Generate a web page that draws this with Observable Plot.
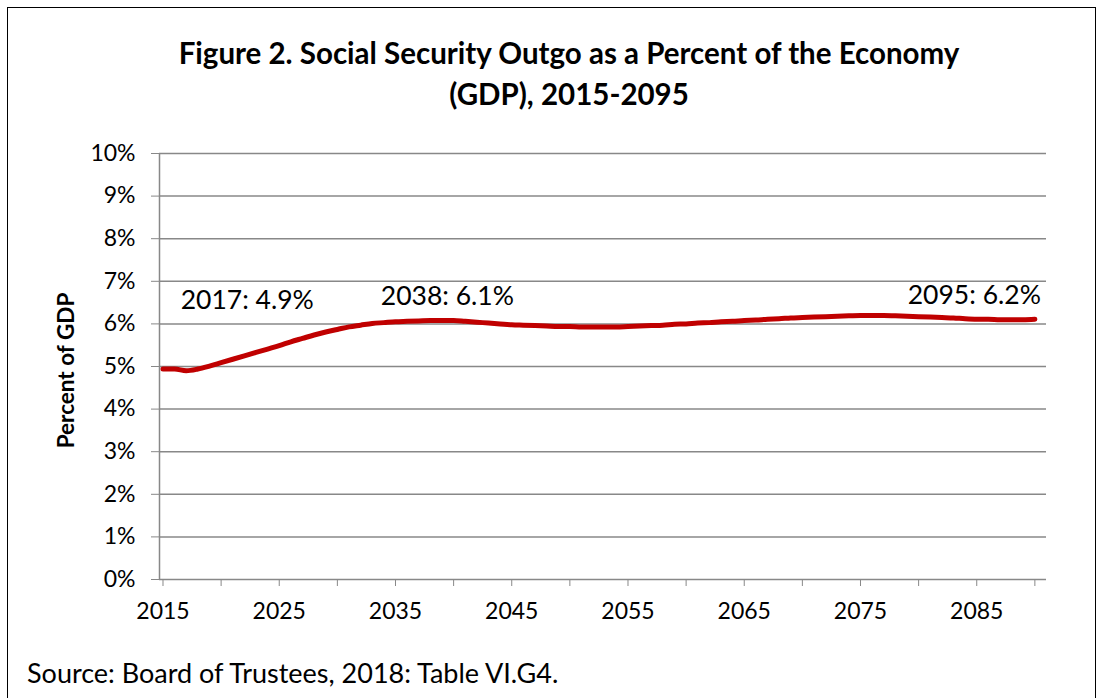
<!DOCTYPE html>
<html>
<head>
<meta charset="utf-8">
<script src="https://cdn.jsdelivr.net/npm/d3@7"></script>
<script src="https://cdn.jsdelivr.net/npm/@observablehq/plot@0.6"></script>
<style>
  body { margin: 0; background: #fff; font-family: Lato, "Open Sans", sans-serif; }
  #wrap { position: relative; width: 1103px; height: 698px; overflow: hidden; background: #fff; }
  #frame { position: absolute; left: 7px; top: 7px; width: 1089px; height: 740px; border: 1.5px solid #000; box-sizing: border-box; }
  #title { position: absolute; left: 0; top: 32px; width: 1138px; text-align: center; font-weight: bold; font-size: 29.5px; line-height: 41px; color: #000; }
  #chart { position: absolute; left: 0; top: 130px; }
  #source { position: absolute; left: 27px; top: 657px; font-size: 27px; line-height: 32px; color: #000; }
</style>
</head>
<body>
<div id="wrap">
  <div id="frame"></div>
  <div id="title">Figure 2. Social Security Outgo as a Percent of the Economy<br>(GDP), 2015-2095</div>
  <div id="chart"></div>
  <div id="source">Source: Board of Trustees, 2018: Table VI.G4.</div>
</div>
<script>
// ---- data ----
const years = d3.range(2015, 2091);
const outgoPct = [
  4.94, 4.94, 4.90, 4.94, 5.01, 5.09, 5.17, 5.25, 5.33, 5.41,
  5.49, 5.58, 5.66, 5.74, 5.81, 5.87, 5.93, 5.97, 6.01, 6.03,
  6.05, 6.06, 6.07, 6.08, 6.08, 6.08, 6.06, 6.04, 6.02, 6.00,
  5.98, 5.97, 5.96, 5.95, 5.94, 5.94, 5.93, 5.93, 5.93, 5.93,
  5.94, 5.95, 5.96, 5.97, 5.99, 6.00, 6.02, 6.03, 6.05, 6.06,
  6.08, 6.09, 6.11, 6.12, 6.14, 6.15, 6.16, 6.17, 6.18, 6.19,
  6.20, 6.20, 6.20, 6.19, 6.18, 6.17, 6.16, 6.15, 6.14, 6.12,
  6.11, 6.11, 6.10, 6.10, 6.10, 6.11
];
const xTickYears = d3.range(2015, 2091, 5);
const xLabelYears = [2015, 2025, 2035, 2045, 2055, 2065, 2075, 2085];
const yTicks = [0, 1, 2, 3, 4, 5, 6, 7, 8, 9, 10];
const annotationLabels = ["2017: 4.9%", "2038: 6.1%", "2095: 6.2%"];
const annotationYears = [2017, 2038, 2090];
const yAxisTitle = "Percent of GDP";

const data = years.map((year, i) => ({year, value: outgoPct[i]}));
const annot = annotationLabels.map((label, i) => {
  const d = data.find(e => e.year === annotationYears[i]);
  return {label, year: d.year, value: d.value};
});
const xDomain = [2014.7, 2091];
const gray = "#888888";

const chart = Plot.plot({
  width: 1103,
  height: 520,
  marginLeft: 159,
  marginRight: 57,
  marginTop: 23,
  marginBottom: 71,
  style: {fontFamily: "Lato, 'Open Sans', sans-serif", fontSize: "23px", color: "#000", background: "transparent", overflow: "visible"},
  x: {type: "linear", domain: xDomain},
  y: {domain: [0, 10]},
  marks: [
    Plot.gridY(yTicks.filter(d => d > 0), {stroke: gray, strokeOpacity: 1, strokeWidth: 1.5}),
    Plot.ruleY([0], {stroke: gray, strokeWidth: 1.5}),
    Plot.ruleX([xDomain[0]], {stroke: gray, strokeWidth: 1.5}),
    Plot.axisY({ticks: yTicks, tickFormat: d => d + "%", tickSize: 8, tickPadding: 16, stroke: gray, label: null, fontSize: 23}),
    Plot.axisX({ticks: xTickYears, tickFormat: () => "", tickSize: 7, stroke: gray, label: null}),
    Plot.axisX({ticks: xLabelYears, tickFormat: d => String(d), tickSize: 0, tickPadding: 23, label: null, fontSize: 23}),
    Plot.text([yAxisTitle], {frameAnchor: "left", textAnchor: "middle", rotate: -90, dx: -93, dy: 4, fontWeight: "bold", fontSize: 22.5, fill: "#000"}),
    Plot.line(data, {x: "year", y: "value", stroke: "#C00000", strokeWidth: 5, curve: "monotone-x", strokeLinecap: "round"}),
    Plot.text([annot[0]], {x: "year", y: "value", text: "label", dx: 61, dy: -70, fontSize: 26.5, fill: "#000"}),
    Plot.text([annot[1]], {x: "year", y: "value", text: "label", dx: 17, dy: -24, fontSize: 26.5, fill: "#000"}),
    Plot.text([annot[2]], {x: "year", y: "value", text: "label", dx: 6, dy: -24, textAnchor: "end", fontSize: 26.5, fill: "#000"})
  ]
});
document.getElementById("chart").appendChild(chart);
</script>
</body>
</html>
